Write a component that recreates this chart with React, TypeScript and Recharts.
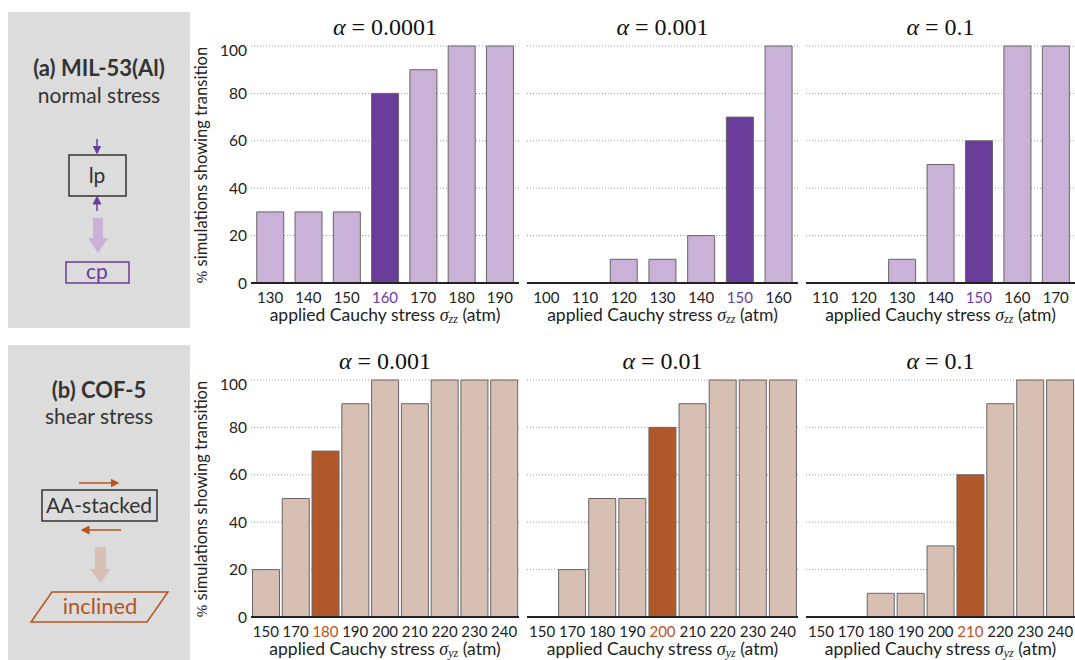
import React from "react";
import { BarChart, Bar, XAxis, YAxis, CartesianGrid, Cell } from "recharts";

// top row: MIL-53(Al), normal stress
const milStressA = ["130", "140", "150", "160", "170", "180", "190"];
const milValuesA = [30, 30, 30, 80, 90, 100, 100];
const milStressB = ["100", "110", "120", "130", "140", "150", "160"];
const milValuesB = [0, 0, 10, 10, 20, 70, 100];
const milStressC = ["110", "120", "130", "140", "150", "160", "170"];
const milValuesC = [0, 0, 10, 50, 60, 100, 100];
const milAlphas = ["0.0001", "0.001", "0.1"];
const milHighlights = ["160", "150", "150"];

// bottom row: COF-5, shear stress
const cofStress = ["150", "170", "180", "190", "200", "210", "220", "230", "240"];
const cofValuesA = [20, 50, 70, 90, 100, 90, 100, 100, 100];
const cofValuesB = [0, 20, 50, 50, 80, 90, 100, 100, 100];
const cofValuesC = [0, 0, 10, 10, 30, 60, 90, 100, 100];
const cofAlphas = ["0.001", "0.01", "0.1"];
const cofHighlights = ["180", "200", "210"];

const yTicks = [0, 20, 40, 60, 80, 100];

const FONT = "Lato, 'Open Sans', sans-serif";
const SERIF = "'Liberation Serif', 'DejaVu Serif', serif";
const PURPLE_LIGHT = "#c9b1d7";
const PURPLE_DARK = "#6a3d9a";
const TAN_LIGHT = "#d8bfb4";
const RUST = "#b0582a";
const RUST_TEXT = "#b5541f";

const toRows = (cats: string[], vals: number[]) =>
  cats.map((s, i) => ({ s, v: vals[i] }));

// plot rectangles (page coords)
const plotXs = [
  [251, 519],
  [527, 798],
  [806, 1075],
];
const rowTops = [46, 380];
const PLOT_H = 237;
const Y_AXIS_W = 50;
const M_TOP = 5;
const X_AXIS_H = 24;

interface PanelProps {
  data: { s: string; v: number }[];
  col: number;
  row: number;
  alpha: string;
  hl: string;
  light: string;
  dark: string;
  hlText: string;
  gap: string;
  sub: string;
}

function Panel({ data, col, row, alpha, hl, light, dark, hlText, gap, sub }: PanelProps) {
  const [x0, x1] = plotXs[col];
  const showY = col === 0;
  const left = x0 - (showY ? Y_AXIS_W : 0);
  const width = x1 - left;
  const top = rowTops[row] - M_TOP;
  const height = M_TOP + PLOT_H + X_AXIS_H;
  const cx = (x0 + x1) / 2;

  const renderTick = (p: any) => {
    const val = p.payload.value;
    return (
      <text
        x={p.x}
        y={p.y + 12}
        textAnchor="middle"
        fontFamily={FONT}
        fontSize={15}
        fill={val === hl ? hlText : "#222"}
      >
        {val}
      </text>
    );
  };

  return (
    <>
      <div
        style={{
          position: "absolute",
          left: cx - 120,
          width: 240,
          top: rowTops[row] - 33,
          textAlign: "center",
          fontFamily: SERIF,
          fontSize: 24,
          color: "#111",
          lineHeight: "28px",
          whiteSpace: "nowrap",
        }}
      >
        <i>α</i> = {alpha}
      </div>
      <div style={{ position: "absolute", left, top, width, height }}>
        <BarChart
          width={width}
          height={height}
          data={data}
          margin={{ top: M_TOP, right: 0, bottom: 0, left: 0 }}
          barCategoryGap={gap}
        >
          <CartesianGrid
            vertical={false}
            stroke="#9a9a9a"
            strokeDasharray="1 2"
          />
          <XAxis
            dataKey="s"
            type="category"
            height={X_AXIS_H}
            tickLine={false}
            axisLine={{ stroke: "#222", strokeWidth: 2 }}
            tick={renderTick}
            interval={0}
          />
          <YAxis
            hide={!showY}
            width={Y_AXIS_W}
            domain={[0, 100]}
            ticks={yTicks}
            axisLine={false}
            tickLine={false}
            tickSize={2}
            tickMargin={2}
            tick={{ fontFamily: FONT, fontSize: 15.5, fill: "#222" }}
          />
          <Bar dataKey="v" stroke="#666" strokeWidth={1} isAnimationActive={false}>
            {data.map((d, i) => (
              <Cell key={i} fill={d.s === hl ? dark : light} />
            ))}
          </Bar>
        </BarChart>
      </div>
      <div
        style={{
          position: "absolute",
          left: cx - 160,
          width: 320,
          top: rowTops[row] + PLOT_H + 23,
          textAlign: "center",
          fontFamily: FONT,
          fontSize: 17.5,
          color: "#222",
          lineHeight: "18px",
          whiteSpace: "nowrap",
        }}
      >
        applied Cauchy stress{" "}
        <span style={{ fontFamily: SERIF, fontStyle: "italic", fontSize: 18, lineHeight: "18px" }}>σ</span>
        <span
          style={{
            fontFamily: SERIF,
            fontStyle: "italic",
            fontSize: 12,
            lineHeight: "12px",
            position: "relative",
            top: 2,
          }}
        >
          {sub}
        </span>{" "}
        (atm)
      </div>
      {showY && (
        <div
          style={{
            position: "absolute",
            left: 201 - 150,
            top: rowTops[row] + PLOT_H / 2 - 10,
            width: 300,
            height: 20,
            lineHeight: "20px",
            textAlign: "center",
            transform: "rotate(-90deg)",
            fontFamily: FONT,
            fontSize: 16.5,
            color: "#222",
            whiteSpace: "nowrap",
          }}
        >
          <span style={{ fontFamily: SERIF, fontSize: 15 }}>%</span>{" "}
          simulations showing transition
        </div>
      )}
    </>
  );
}

function SidePanels() {
  return (
    <svg
      width={190}
      height={660}
      style={{ position: "absolute", left: 0, top: 0 }}
      fontFamily={FONT}
    >
      <defs>
        <marker id="hp" viewBox="0 0 10 10" refX="5" refY="5" markerWidth="6" markerHeight="6" orient="auto-start-reverse">
          <path d="M0,0 L10,5 L0,10 z" fill={PURPLE_DARK} />
        </marker>
        <marker id="hr" viewBox="0 0 10 10" refX="5" refY="5" markerWidth="6" markerHeight="6" orient="auto-start-reverse">
          <path d="M0,0 L10,5 L0,10 z" fill={RUST_TEXT} />
        </marker>
      </defs>
      <rect x={8} y={12} width={182} height={316} fill="#dcdcdc" />
      <rect x={8} y={345} width={182} height={315} fill="#dcdcdc" />

      <text x={99} y={76} textAnchor="middle" fontSize={22} fontWeight="bold" fill="#333">
        (a) MIL-53(Al)
      </text>
      <text x={99} y={103} textAnchor="middle" fontSize={21} fill="#333">
        normal stress
      </text>
      <line x1={97} y1={139} x2={97} y2={150} stroke={PURPLE_DARK} strokeWidth={1.5} markerEnd="url(#hp)" />
      <rect x={69} y={155} width={57} height={41} fill="none" stroke="#333" strokeWidth={1.5} />
      <text x={97} y={183} textAnchor="middle" fontSize={21} fill="#333">
        lp
      </text>
      <line x1={97} y1={211} x2={97} y2={200} stroke={PURPLE_DARK} strokeWidth={1.5} markerEnd="url(#hp)" />
      <rect x={93} y={218} width={10} height={20} fill={PURPLE_LIGHT} />
      <polygon points="88,238 108,238 98,253" fill={PURPLE_LIGHT} />
      <rect x={66} y={262} width={63} height={21} fill="none" stroke={PURPLE_DARK} strokeWidth={1.5} />
      <text x={97} y={279} textAnchor="middle" fontSize={21} fill={PURPLE_DARK}>
        cp
      </text>

      <text x={99} y={398} textAnchor="middle" fontSize={22} fontWeight="bold" fill="#333">
        (b) COF-5
      </text>
      <text x={99} y={424} textAnchor="middle" fontSize={21} fill="#333">
        shear stress
      </text>
      <line x1={79} y1={483} x2={115} y2={483} stroke={RUST_TEXT} strokeWidth={1.5} markerEnd="url(#hr)" />
      <rect x={42} y={490} width={115} height={31} fill="none" stroke="#333" strokeWidth={1.5} />
      <text x={99} y={513} textAnchor="middle" fontSize={21} fill="#333">
        AA-stacked
      </text>
      <line x1={121} y1={530} x2={85} y2={530} stroke={RUST_TEXT} strokeWidth={1.5} markerEnd="url(#hr)" />
      <rect x={95} y={547} width={11} height={22} fill={TAN_LIGHT} />
      <polygon points="90,569 111,569 100.5,583" fill={TAN_LIGHT} />
      <polygon points="52,592 168,592 147,622 31,622" fill="none" stroke={RUST_TEXT} strokeWidth={1.5} />
      <text x={100} y={614} textAnchor="middle" fontSize={22} fill={RUST_TEXT}>
        inclined
      </text>
    </svg>
  );
}

export default function App() {
  const milData = [
    toRows(milStressA, milValuesA),
    toRows(milStressB, milValuesB),
    toRows(milStressC, milValuesC),
  ];
  const cofData = [
    toRows(cofStress, cofValuesA),
    toRows(cofStress, cofValuesB),
    toRows(cofStress, cofValuesC),
  ];
  return (
    <div
      style={{
        position: "absolute",
        left: 0,
        top: 0,
        width: 1075,
        height: 660,
        background: "#fff",
        overflow: "hidden",
      }}
    >
      <SidePanels />
      {milData.map((d, i) => (
        <Panel
          key={"m" + i}
          data={d}
          col={i}
          row={0}
          alpha={milAlphas[i]}
          hl={milHighlights[i]}
          light={PURPLE_LIGHT}
          dark={PURPLE_DARK}
          hlText={PURPLE_DARK}
          gap="15%"
          sub="zz"
        />
      ))}
      {cofData.map((d, i) => (
        <Panel
          key={"c" + i}
          data={d}
          col={i}
          row={1}
          alpha={cofAlphas[i]}
          hl={cofHighlights[i]}
          light={TAN_LIGHT}
          dark={RUST}
          hlText={RUST_TEXT}
          gap="5%"
          sub="yz"
        />
      ))}
    </div>
  );
}
